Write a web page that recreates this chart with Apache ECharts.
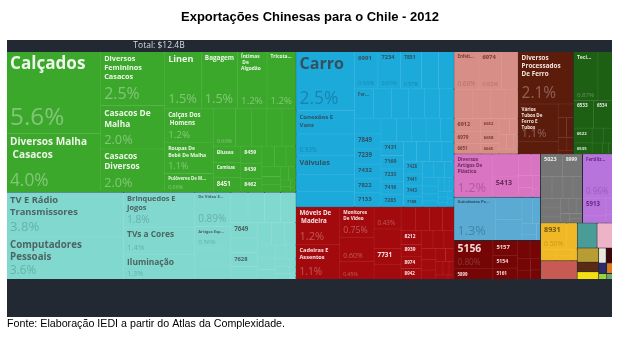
<!DOCTYPE html>
<html>
<head>
<meta charset="utf-8">
<script src="https://cdn.jsdelivr.net/npm/echarts@6/dist/echarts.min.js"></script>
<style>
  html, body { margin: 0; padding: 0; background: #ffffff; }
  #chart { width: 622px; height: 345px; }
</style>
</head>
<body>
<div id="chart"></div>
<script>
// ---------------------------------------------------------------
// Data: share of total exports (%), by sector and product
// ---------------------------------------------------------------
const titleText = 'Exportações Chinesas para o Chile - 2012';
const totalText = 'Total: $12.4B';
const sourceText = 'Fonte: Elaboração IEDI a partir do Atlas da Complexidade.';

const sectorNames = [
  'Têxteis E Vestuário', 'Eletrônicos', 'Máquinas E Veículos', 'Móveis E Diversos',
  'Utensílios E Ornamentos', 'Produtos De Ferro E Aço', 'Tecidos', 'Plásticos',
  'Equipamentos De Transporte', 'Químicos Orgânicos', 'Químicos Diversos', 'Fertilizantes', 'Artigos Impressos'
];

const textilesNames = ['Calçados', 'Diversos Malha Casacos', 'Diversos Femininos Casacos', 'Casacos De Malha',
  'Casacos Diversos', 'Linen', 'Bagagem', 'Íntimas De Algodão', 'Tricotar Roupas E Acessórios', 'Calças Dos Homens',
  'Roupas De Bebê De Malha', 'Pulôveres De Malha', 'De Camisas Masculinas', 'Lingerie', '8431',
  'Naturais De Malha Fibras', '6589', 'Blusas', 'Camisas',
  '8451', '8459', '8439', '8462', '8472', '8423', '8452', '8441', '8483', '8429', '8484', '8465', '8471', '8482', '8422', '8312'];
const textilesValues = [5.6, 4.0, 2.5, 2.02, 2.0, 1.52, 1.5, 1.22, 1.2, 1.18,
  1.1, 0.66, 0.60, 0.43, 0.42, 0.41, 0.38, 0.33, 0.30,
  0.29, 0.26, 0.23, 0.21, 0.19, 0.17, 0.15, 0.13, 0.11, 0.10, 0.08, 0.07, 0.05, 0.04, 0.03, 0.02];

const electronicsNames = ['TV E Rádio Transmissores', 'Computadores Pessoais', 'Brinquedos E Jogos', 'TVs a Cores',
  'Iluminação', 'De Vídeo E Gravadores De Som', 'Artigos Esportivos', 'Amplificadores De Áudio', 'Eletrodomésticos',
  '7751', '7415', '7712', 'CPUs', '7649', 'Linha Telefônica', '7628', 'Divisão De Energia',
  '7522', '7638', '7641', '7642', '7732', '7788', '7611', '7643', '7768', '7784', '7523', '7757', '7782', '7599', '8983'];
const electronicsValues = [3.8, 3.6, 1.8, 1.4, 1.3, 0.89, 0.56, 0.42, 0.40, 0.38, 0.36, 0.35, 0.34, 0.30, 0.28, 0.27, 0.25,
  0.23, 0.21, 0.19, 0.17, 0.15, 0.13, 0.11, 0.10, 0.08, 0.07, 0.06, 0.04, 0.03, 0.02, 0.01];

const machineryNames = ['Carro', 'Conexões E Vans', 'Dispositivos De Aquecimento Elétrico', 'Válvulas',
  'Veículos De Passageiros Público', 'Veículos Peças E Acessórios', '6991', '7234', '7851', '7162', '7442',
  'Ferro P Aço', '6940', 'Geradores Formadores', '7721', 'Diversos Máquinas', '7783', 'Ferragens De Ferro',
  '7239', '7849', '7432', '7133', '7822', '7248', '6996', '7436', '7449', '7431', '7452', '7169', '7416',
  '7233', '7283', '7499', '7492', '7439', '7421', '7428', '7441', '7443', '7188', '7371', '7373', '7379',
  '7243', '7244', '7247', '7268', '7281', '7284', '7285', '7367', '7368', '7372', '7417', '7423', '7429'];
const machineryValues = [2.5, 1.0, 0.93, 0.78, 0.74, 0.65, 0.63, 0.61, 0.57, 0.46, 0.42, 0.40, 0.38, 0.36, 0.34, 0.32, 0.31, 0.30,
  0.29, 0.29, 0.28, 0.27, 0.27, 0.26, 0.25, 0.25, 0.24, 0.23, 0.23, 0.22, 0.21, 0.21, 0.20, 0.19, 0.19,
  0.18, 0.18, 0.17, 0.16, 0.15, 0.14, 0.13, 0.12, 0.11, 0.10, 0.09, 0.08, 0.07, 0.06, 0.05, 0.05, 0.04,
  0.04, 0.03, 0.03, 0.02, 0.02];

const furnitureNames = ['Móveis De Madeira', 'Cadeiras E Assentos', 'Monitores De Vídeo', 'Aviamentos Processados',
  'Mobiliário De Metal', 'Cabos Isolados De Cobre', 'Barras De Ferro E Aço', '7731', 'Refrigeração Doméstica',
  'Papéis Domésticos Não Impressos',
  '8219', '8211', '8212', '8932', '8939', '8974', '8942', '8944', '8952', '8959', '8997', '8960', '8991',
  '8993', '8122', '8124', '8215', '8217', '8998', '8994'];
const furnitureValues = [1.2, 1.1, 0.75, 0.60, 0.45, 0.43, 0.38, 0.31, 0.30, 0.25,
  0.24, 0.22, 0.20, 0.20, 0.18, 0.17, 0.16, 0.15, 0.14, 0.13, 0.12, 0.11, 0.10, 0.09, 0.08, 0.07, 0.06, 0.05, 0.04, 0.02];

const ornamentsNames = ['Enfeites De Plástico', '6974', '6978', 'Enfeites Diversos', '6664',
  '6973', '6911', '6912', '6979', '6651', '6652', '6658', '6665', '6666', '6997', '6954', '6964', '6993', '6998', '6992'];
const ornamentsValues = [0.68, 0.62, 0.45, 0.40, 0.38,
  0.30, 0.28, 0.25, 0.22, 0.20, 0.18, 0.16, 0.14, 0.12, 0.10, 0.08, 0.07, 0.05, 0.04, 0.03];

const ironNames = ['Diversos Processados De Ferro', 'Vários Tubos De Ferro E Tubos', 'Parafusos De Ferro',
  '6794', '6793', '6931', '6783', '6785', '6747'];
const ironValues = [2.1, 1.1, 0.35, 0.15, 0.12, 0.10, 0.08, 0.06, 0.04];

const fabricNames = ['Tecidos Sintéticos', '6521', '6533', '6534', '6522', '6535', '6531', '6513', '6539', '6560', '6584'];
const fabricValues = [0.87, 0.52, 0.40, 0.38, 0.20, 0.15, 0.12, 0.10, 0.08, 0.05, 0.03];

const plasticsNames = ['Diversos Artigos De Plástico', 'Encerados Velas Tendas', '5413',
  '8933', '8946', '8947', '8951', '8954', '8957'];
const plasticsValues = [1.2, 0.42, 0.40, 0.20, 0.15, 0.12, 0.10, 0.08, 0.05];

const transportNames = ['Guindastes Peças Para Veículos De Transporte', 'Lâmpadas', 'Diversos Veículos',
  '7929', '7932', '7868', '7861', '7919'];
const transportValues = [1.3, 0.42, 0.40, 0.20, 0.15, 0.12, 0.06, 0.05];

const organicNames = ['5156', '5899', '5157', '5154', '5161', '5162', '5137', '5138', '5148', '5824', '5833'];
const organicValues = [0.80, 0.30, 0.27, 0.22, 0.20, 0.17, 0.14, 0.11, 0.09, 0.08, 0.07];

const chemicalNames = ['5023', '8999', '5121', '5122', '5232', '5239', '5331', '5334', '5514', '5541', '5542', '5543', '5922', '8996', '8992'];
const chemicalValues = [0.36, 0.33, 0.18, 0.17, 0.16, 0.15, 0.14, 0.12, 0.10, 0.09, 0.08, 0.07, 0.06, 0.05, 0.04];

const fertilizerNames = ['Fertilizantes Nitrogenados', '5913', '5623', '5629', '5721'];
const fertilizerValues = [0.96, 0.30, 0.12, 0.08, 0.04];

const printedNames = ['8931', '8934', '8937', '8938', '5831', '5832'];
const printedValues = [0.50, 0.20, 0.12, 0.08, 0.06, 0.04];

// Sectors with a single small tile
const minorNames = ['Borracha', 'Vidro', 'Cerâmica', 'Papel', 'Couro', 'Madeira', 'Minerais',
  'Metais Preciosos', 'Alimentos', 'Instrumentos', 'Óptica', 'Tabaco'];
const minorValues = [0.50, 0.36, 0.28, 0.22, 0.15, 0.12, 0.08, 0.07, 0.06, 0.045, 0.035, 0.025];

// ---------------------------------------------------------------
// Styles (fill, text colour, faint percentage colour)
// ---------------------------------------------------------------
const sectorStyles = [
  { fill: '#3ba72b', name: '#eef6ea', pct: 'rgba(255,255,255,0.36)' },
  { fill: '#80d8cf', name: '#4e6462', pct: 'rgba(40,85,85,0.30)' },
  { fill: '#1caadb', name: '#35505e', pct: 'rgba(20,55,75,0.33)' },
  { fill: '#a30a0d', name: '#f7e4e4', pct: 'rgba(255,255,255,0.30)' },
  { fill: '#d68e86', name: '#7b3b36', pct: 'rgba(120,40,35,0.30)' },
  { fill: '#5c1c0c', name: '#f4e6e0', pct: 'rgba(255,255,255,0.30)' },
  { fill: '#1d6014', name: '#e2ecdf', pct: 'rgba(255,255,255,0.30)' },
  { fill: '#d874c2', name: '#6b2b5d', pct: 'rgba(100,30,80,0.33)' },
  { fill: '#5aaad3', name: '#2d4d66', pct: 'rgba(20,50,80,0.33)' },
  { fill: '#760606', name: '#f3dada', pct: 'rgba(255,255,255,0.18)' },
  { fill: '#767676', name: '#f0f0f0', pct: 'rgba(255,255,255,0.25)' },
  { fill: '#b874dc', name: '#5c2b78', pct: 'rgba(90,40,120,0.33)' },
  { fill: '#f0b824', name: '#6d5614', pct: 'rgba(110,80,10,0.30)' }
];
const minorFills = ['#c75a52', '#4a9d97', '#efb3c8', '#b89c34', '#5a2a12', '#f3df12',
  '#ebe7df', '#3b070c', '#2c2c6e', '#e07b1f', '#9bd13f', '#6aa86a'];

const sectorLeaves = [
  [textilesNames, textilesValues], [electronicsNames, electronicsValues], [machineryNames, machineryValues],
  [furnitureNames, furnitureValues], [ornamentsNames, ornamentsValues], [ironNames, ironValues],
  [fabricNames, fabricValues], [plasticsNames, plasticsValues], [transportNames, transportValues],
  [organicNames, organicValues], [chemicalNames, chemicalValues], [fertilizerNames, fertilizerValues],
  [printedNames, printedValues]
];

let total = 0;
sectorLeaves.forEach(g => g[1].forEach(v => { total += v; }));
minorValues.forEach(v => { total += v; });

function sharePct(v) { return v / total * 100; }
function fmtPct(v) {
  const p = sharePct(v);
  return (p >= 1 ? p.toFixed(1) : p.toFixed(2)) + '%';
}
function edgeOf(c) { return echarts.color.lift(c, 0.14); }

const MIN_NAME_FONT = 4;

// Font size for a tile name: longest word fits the width, whole name fits part of the area.
// Returns [size, overflowMode].
function nameFont(name, w, h) {
  if (!w || !h) return [0, 'break'];
  const words = name.split(' ');
  let longest = 0;
  words.forEach(s => { longest = Math.max(longest, s.length); });
  const a = (w - 7) / (longest * 0.63);
  const b = Math.sqrt(w * h * 0.3 / (name.length * 0.72));
  const fs = Math.min(22, a, b, h * 0.45);
  if (fs < MIN_NAME_FONT + 0.5 && words.length > 1) {
    // keep a readable size and cut the name with an ellipsis
    return [Math.min(6, b, h * 0.45), 'truncate'];
  }
  return [fs, 'break'];
}
function nameLines(name, fs, w, mode) {
  if (mode === 'truncate') return 1;
  const avail = Math.max(w - 5, 1);
  const words = name.split(' ');
  let lines = 1, cur = 0;
  words.forEach(s => {
    const ww = (s.length + (cur ? 1 : 0)) * 0.62 * fs;
    if (cur && cur + ww > avail) { lines++; cur = s.length * 0.62 * fs; }
    else cur += ww;
  });
  return lines;
}
function pctEm(txt) {
  let em = 0;
  for (const ch of txt) em += ch === '.' ? 0.27 : (ch === '%' ? 0.86 : 0.572);
  return em;
}

function leafItem(nm, v, parent, st, sizes, forPct) {
  const item = { name: nm, value: v };
  const sz = sizes && sizes[parent + '|' + nm];
  const w = sz ? sz.w : 0, h = sz ? sz.h : 0;
  const nf = nameFont(nm, w, h);
  const fsN = nf[0];
  const showN = !st.noText && fsN >= MIN_NAME_FONT && w >= 12 && h >= 8;
  if (!forPct) {
    item.itemStyle = { color: st.fill, borderColor: st.fill };
    item.label = showN
      ? { show: true, fontSize: fsN, lineHeight: Math.ceil(fsN * 1.2), color: st.name, overflow: nf[1] }
      : { show: false };
  } else {
    item.itemStyle = { color: 'rgba(0,0,0,0)', borderColor: 'rgba(0,0,0,0)' };
    const txt = fmtPct(v);
    let fsP = 0;
    if (!st.noText && sharePct(v) >= 0.425 && w > 0) {
      fsP = Math.min(28, h * 0.3, (w - 5) / (pctEm(txt) * 1.05));
      const used = showN ? nameLines(nm, fsN, w, nf[1]) * Math.ceil(fsN * 1.2) + 2 : 0;
      fsP = Math.min(fsP, (h - used - 2) / 1.15);
    }
    if (fsP >= 5) {
      const lh = Math.ceil(fsP * 1.15);
      item.label = { show: true, fontSize: fsP, lineHeight: lh, color: st.pct,
        padding: [Math.max(0, h - lh - 1), 0, 0, 3] };
    } else {
      item.label = { show: false };
    }
  }
  return item;
}

function buildData(sizes, forPct) {
  const out = [];
  sectorLeaves.forEach((g, gi) => {
    const st = sectorStyles[gi];
    const children = g[0].map((nm, i) => leafItem(nm, g[1][i], sectorNames[gi], st, sizes, forPct));
    out.push({
      name: sectorNames[gi],
      itemStyle: forPct ? { color: 'rgba(0,0,0,0)', borderColor: 'rgba(0,0,0,0)' }
                        : { color: st.fill, borderColor: edgeOf(st.fill) },
      children
    });
  });
  minorNames.forEach((nm, i) => {
    out.push(leafItem(nm, minorValues[i], '', { fill: minorFills[i], noText: true }, sizes, forPct));
  });
  return out;
}

function treemapSeries(data, forPct) {
  return {
    type: 'treemap',
    left: 7, top: 52, width: 605, height: 227,
    roam: false, nodeClick: false, silent: true,
    breadcrumb: { show: false },
    squareRatio: 1.8,
    visibleMin: 0,
    animation: false,
    z: forPct ? 4 : 2,
    label: {
      show: true,
      position: 'insideTopLeft',
      distance: 0,
      padding: forPct ? 0 : [2, 2, 0, 3],
      fontFamily: '"Open Sans", "DejaVu Sans", sans-serif',
      fontWeight: forPct ? 'normal' : 'bold',
      overflow: forPct ? 'none' : 'break',
      ellipsis: '...',
      formatter: forPct ? (p => fmtPct(p.value)) : '{b}'
    },
    upperLabel: { show: false },
    levels: [
      { itemStyle: { borderWidth: 0, gapWidth: 1, borderColor: forPct ? 'rgba(0,0,0,0)' : '#222933' } },
      { itemStyle: { borderWidth: 0, gapWidth: 1 } },
      { itemStyle: { borderWidth: 0, gapWidth: 0 } }
    ],
    emphasis: { disabled: true },
    data
  };
}

function makeOption(sizes) {
  return {
    animation: false,
    graphic: [
      { type: 'rect', z: 0, silent: true, shape: { x: 7, y: 40, width: 605, height: 277 }, style: { fill: '#222933' } },
      { type: 'text', z: 1, silent: true, x: 310, y: 17,
        style: { text: titleText, font: 'bold 13px "Liberation Sans", Arial, sans-serif', fill: '#000000', align: 'center', verticalAlign: 'middle' } },
      { type: 'text', z: 1, silent: true, x: 159, y: 46,
        style: { text: totalText, font: '8.5px "Open Sans", sans-serif', fill: '#d9dadc', align: 'center', verticalAlign: 'middle' } },
      { type: 'text', z: 1, silent: true, x: 7, y: 324,
        style: { text: sourceText, font: '10.7px "Liberation Sans", Arial, sans-serif', fill: '#000000', align: 'left', verticalAlign: 'middle' } }
    ],
    series: [treemapSeries(buildData(sizes, false), false), treemapSeries(buildData(sizes, true), true)]
  };
}

const chart = echarts.init(document.getElementById('chart'), null, { renderer: 'canvas' });
chart.setOption(makeOption(null));

// Read back tile sizes from the treemap layout to size the labels
const tileSizes = {};
try {
  const tree = chart.getModel().getSeriesByIndex(0).getData().tree;
  tree.root.eachNode(function (node) {
    const lay = node.getLayout();
    if (!lay || !node.parentNode) return;
    const parentName = node.parentNode.parentNode ? node.parentNode.name : '';
    tileSizes[parentName + '|' + node.name] = { w: lay.width, h: lay.height };
  });
} catch (e) { /* labels stay hidden */ }

chart.setOption(makeOption(tileSizes), true);
</script>
</body>
</html>
